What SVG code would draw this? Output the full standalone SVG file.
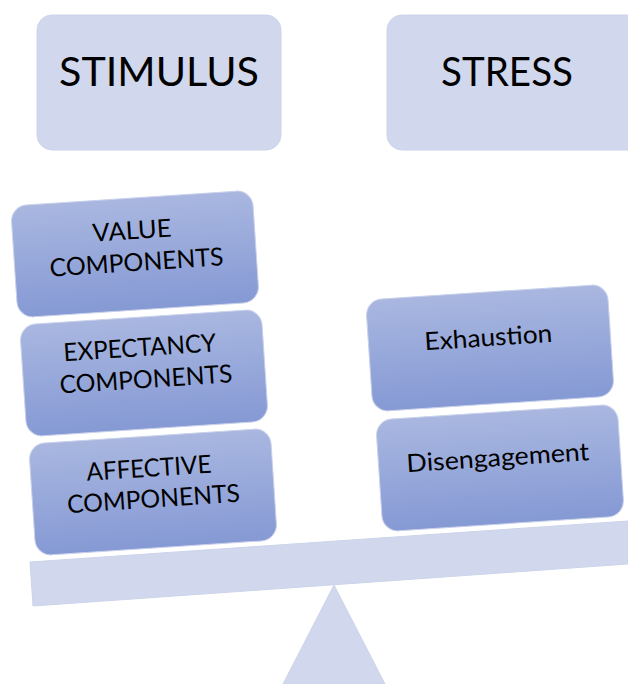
<svg xmlns="http://www.w3.org/2000/svg" width="628" height="684" viewBox="0 0 628 684">
<defs>
<linearGradient id="g" x1="0" y1="0" x2="0" y2="1">
<stop offset="0" stop-color="#a9b7e0"/>
<stop offset="1" stop-color="#8599d4"/>
</linearGradient>
<style>
.lt{fill:#d1d8ed;stroke:#ccd4ea;stroke-width:1}
.bx{fill:url(#g);stroke:#c9d1ea;stroke-width:1}
.big{font-family:Lato,"Open Sans","Liberation Sans",sans-serif;font-size:41px;fill:#000;text-anchor:middle}
.sm{font-family:Lato,"Open Sans","Liberation Sans",sans-serif;font-size:25px;fill:#000;text-anchor:middle}
</style>
</defs>
<rect width="628" height="684" fill="#fff"/>
<g id="fulcrum"><polygon class="lt" points="334,585 283,684 385,684"/></g>
<g id="beam"><polygon class="lt" points="30,562 628,521 628,564 33,606"/></g>
<g id="stimulus"><rect class="lt" x="37" y="15" width="244" height="135" rx="15"/><text class="big" x="159" y="86" textLength="200" lengthAdjust="spacingAndGlyphs">STIMULUS</text></g>
<g id="stress"><rect class="lt" x="387" y="15" width="260" height="135" rx="15"/><text class="big" x="507" y="86" textLength="132" lengthAdjust="spacingAndGlyphs">STRESS</text></g>
<g id="value" transform="translate(135,254) rotate(-3.8)"><rect class="bx" x="-121" y="-56" width="242" height="112" rx="16"/><text class="sm" x="-1.5" y="-15" textLength="79" lengthAdjust="spacingAndGlyphs">VALUE</text><text class="sm" x="1" y="17" textLength="174" lengthAdjust="spacingAndGlyphs">COMPONENTS</text></g>
<g id="expectancy" transform="translate(144,373) rotate(-3.8)"><rect class="bx" x="-121" y="-56" width="242" height="112" rx="16"/><text class="sm" x="-2.5" y="-17" textLength="153" lengthAdjust="spacingAndGlyphs">EXPECTANCY</text><text class="sm" x="1.5" y="15" textLength="173" lengthAdjust="spacingAndGlyphs">COMPONENTS</text></g>
<g id="affective" transform="translate(153,492) rotate(-3.8)"><rect class="bx" x="-121" y="-56" width="242" height="112" rx="16"/><text class="sm" x="-2.5" y="-15.5" textLength="125" lengthAdjust="spacingAndGlyphs">AFFECTIVE</text><text class="sm" x="0" y="15.5" textLength="173" lengthAdjust="spacingAndGlyphs">COMPONENTS</text></g>
<g id="exhaustion" transform="translate(490,348) rotate(-3.8)"><rect class="bx" x="-121" y="-56" width="242" height="112" rx="16"/><text class="sm" x="-1" y="-2" textLength="128" lengthAdjust="spacingAndGlyphs">Exhaustion</text></g>
<g id="disengagement" transform="translate(500,468) rotate(-3.8)"><rect class="bx" x="-121" y="-56" width="242" height="112" rx="16"/><text class="sm" x="-1.5" y="-2" textLength="183" lengthAdjust="spacingAndGlyphs">Disengagement</text></g>
<g id="connectors"/>
</svg>
